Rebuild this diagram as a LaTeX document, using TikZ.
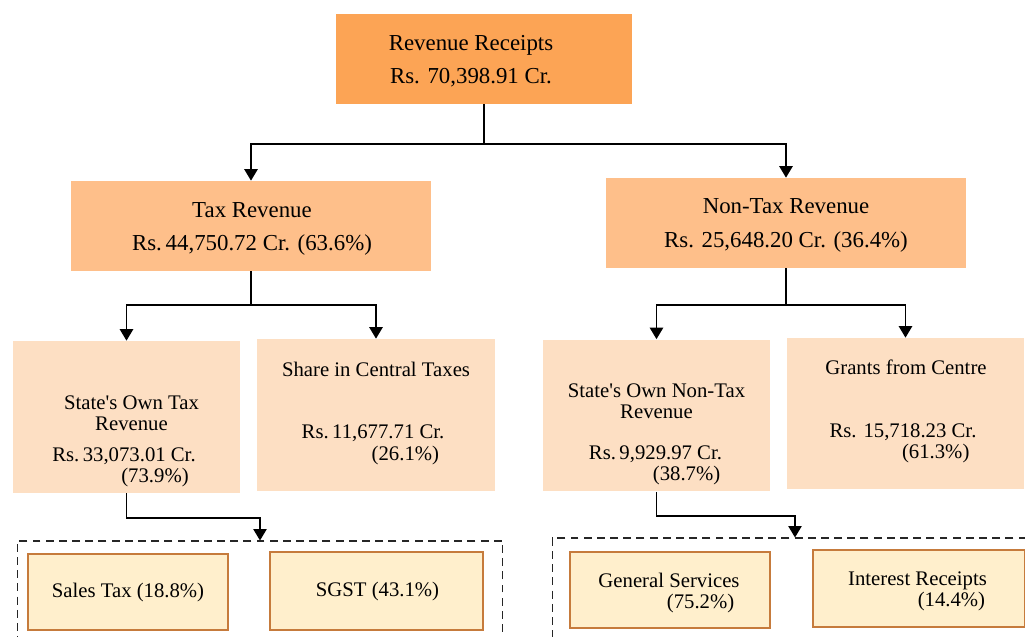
\documentclass[tikz,border=0pt]{standalone}
\usepackage{fontspec}
\setmainfont{Liberation Serif}
\usetikzlibrary{arrows.meta,calc}

\definecolor{toporange}{HTML}{FCA455}
\definecolor{midorange}{HTML}{FEBF8A}
\definecolor{lowpeach}{HTML}{FDDFC3}
\definecolor{leafcream}{HTML}{FFEFCC}
\definecolor{leafedge}{HTML}{C67B3C}

\tikzset{
  topbox/.style={fill=toporange, minimum width=5.92cm, minimum height=1.8cm},
  headbox/.style={fill=midorange, minimum width=7.2cm, minimum height=1.8cm},
  subbox/.style={fill=lowpeach, minimum height=3.04cm},
  leafbox/.style={fill=leafcream, draw=leafedge, line width=0.9pt},
  grpbox/.style={draw=black!85, line width=0.6pt, dash pattern=on 4.5pt off 3pt},
  bigtxt/.style={font=\fontsize{13}{19}\selectfont, align=center, inner sep=0pt},
  smalltxt/.style={font=\fontsize{11.8}{12.2}\selectfont, inner sep=0pt},
  arr/.style={-{Triangle[width=7.5pt,length=6.5pt]}, line width=1pt},
  ln/.style={line width=1pt}
}

\begin{document}
\begin{tikzpicture}[x=0.02cm,y=-0.02cm]
\useasboundingbox (0,0) rectangle (1025,636);

% level 0
\node[topbox] (rr) at (484,59) {};
\node[bigtxt] (rr-t) at (471,61) {Revenue Receipts\\Rs. 70,398.91 Cr.};

% level 1
\node[headbox] (tax) at (251,226) {};
\node[bigtxt] (tax-t) at (252,229) {Tax Revenue\\Rs.\,44,750.72 Cr. (63.6\%)};
\node[headbox] (ntax) at (786,223) {};
\node[bigtxt] (ntax-t) at (786,225.5) {Non-Tax Revenue\\Rs. 25,648.20 Cr. (36.4\%)};

% level 2
\node[subbox, minimum width=4.54cm] (sotr) at (126.5,417) {};
\node[smalltxt, align=center] (sotr-t) at (131.5,413.5) {State\textquotesingle s Own Tax\\Revenue};
\node[smalltxt, align=right] (sotr-v) at (124,467.5) {Rs.\,33,073.01 Cr.\\(73.9\%)\hspace*{4pt}};

\node[subbox, minimum width=4.76cm] (sct) at (376,415) {};
\node[smalltxt] (sct-t) at (376,369) {Share in Central Taxes};
\node[smalltxt, align=right] (sct-v) at (373,445) {Rs.\,11,677.71 Cr.\\(26.1\%)\hspace*{3pt}};

\node[subbox, minimum width=4.54cm] (sontr) at (656.5,415.5) {};
\node[smalltxt, align=center] (sontr-t) at (656.5,401.5) {State\textquotesingle s Own Non-Tax\\Revenue};
\node[smalltxt, align=right] (sontr-v) at (655.5,465.5) {Rs.\,9,929.97 Cr.\\(38.7\%)\hspace*{1pt}};

\node[subbox, minimum width=4.74cm, minimum height=3.02cm] (gfc) at (905.5,413.5) {};
\node[smalltxt] (gfc-t) at (906,367) {Grants from Centre};
\node[smalltxt, align=right] (gfc-v) at (903,443.5) {Rs. 15,718.23 Cr.\\(61.3\%)\hspace*{4pt}};

% level 3
\node[grpbox, minimum width=9.72cm, minimum height=2.38cm] (taxgrp) at (260,600.5) {};
\node[grpbox, minimum width=9.72cm, minimum height=2.44cm] (ntaxgrp) at (795,599) {};

\node[leafbox, minimum width=4.0cm, minimum height=1.52cm] (st) at (128,592) {};
\node[smalltxt] (st-t) at (128,593) {Sales Tax (18.8\%)};
\node[leafbox, minimum width=4.26cm, minimum height=1.56cm] (sgst) at (376.5,591) {};
\node[smalltxt] (sgst-t) at (377.5,592) {SGST (43.1\%)};
\node[leafbox, minimum width=4.0cm, minimum height=1.52cm] (gs) at (670,590) {};
\node[smalltxt, align=right] (gs-t) at (669,593) {General Services\\(75.2\%)\hspace*{3pt}};
\node[leafbox, minimum width=4.24cm, minimum height=1.54cm] (ir) at (919,588.5) {};
\node[smalltxt, align=right] (ir-t) at (917.5,591.5) {Interest Receipts\\(14.4\%)\hspace*{1pt}};

% connectors
\draw[ln] (rr.south) -- ++(0,40) coordinate (rr-j);
\draw[arr] (rr-j) -| (tax.north);
\draw[arr] (rr-j) -| (ntax.north);

\draw[ln] (tax.south) -- ++(0,34) coordinate (tax-j);
\draw[arr] (tax-j) -| (sotr.north);
\draw[arr] (tax-j) -| (sct.north);

\draw[ln] (ntax.south) -- ++(0,37) coordinate (ntax-j);
\draw[arr] (ntax-j) -| (sontr.north);
\draw[arr] (ntax-j) -| (gfc.north);

\draw[arr] (sotr.south) -- ++(0,25) -| (taxgrp.north);
\draw[arr] (sontr.south) -- ++(0,24) -| (ntaxgrp.north);
\end{tikzpicture}
\end{document}
